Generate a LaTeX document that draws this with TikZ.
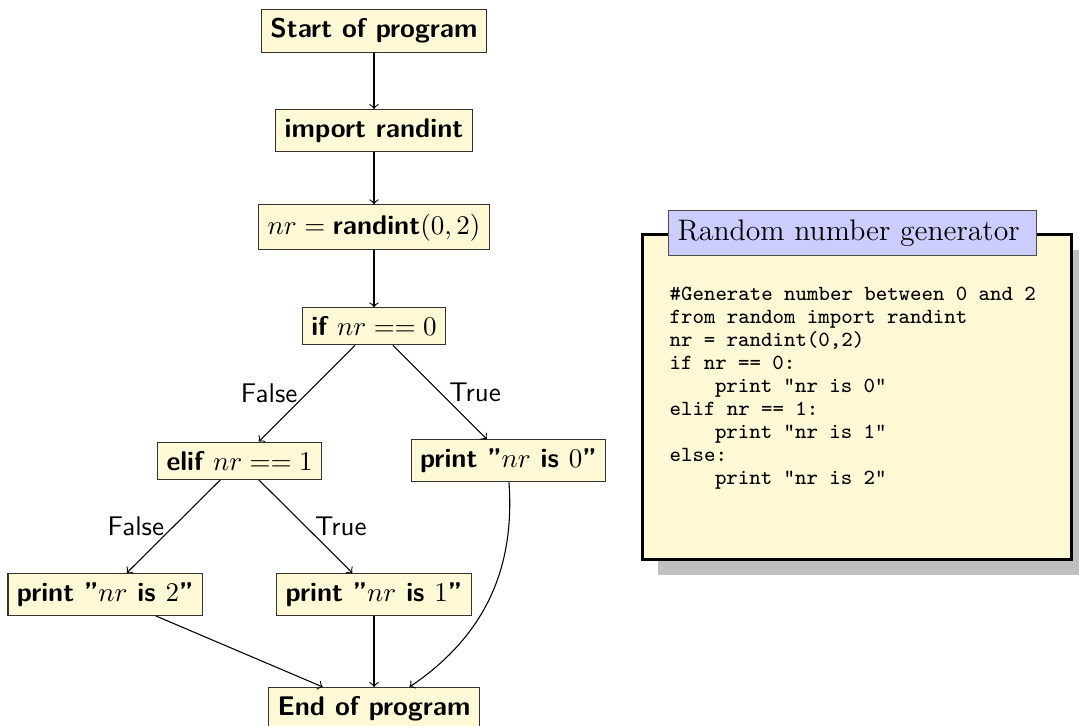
\documentclass[tikz,border=0pt]{standalone}
\usetikzlibrary{shadows}
\definecolor{flowfill}{RGB}{255,249,214}
\newcommand{\codeindent}{\hspace*{2.1em}}
\newcommand{\codespacing}{\frenchspacing\spaceskip 0.525em\relax}
\begin{document}
\begin{tikzpicture}[font=\sffamily,
    flow/.style={rectangle,draw=black!80,fill=flowfill,font=\sffamily\bfseries},
    codebox/.style={rectangle,draw,very thick,fill=flowfill,
      drop shadow={shadow xshift=0.2cm,shadow yshift=-0.2cm,opacity=1,fill=black!25},
      inner xsep=10pt,text width=4.88cm,minimum height=4.23cm,align=left,
      font=\ttfamily\fontsize{8}{8.5}\selectfont},
    codetitle/.style={rectangle,draw=black!70,fill=blue!20,
      font=\rmfamily\fontsize{11}{13}\selectfont}]
    \useasboundingbox (-4.87,0.40) rectangle (9.18,-9.05);
    \node[flow] (S) at (0,0) {Start of program};
    \node[flow] (I) at (0,-1.3) {import randint};
    \node[flow] (R) at (0,-2.56) {$nr = \mbox{randint}(0,2)$};
    \node[flow] (If) at (0,-3.85) {if $nr == 0$};
    \node[flow] (Elif) at (-1.75,-5.6) {elif $nr == 1$};
    \node[flow] (P0) at (1.75,-5.6) {print "$nr$ is $0$"};
    \node[flow] (P2) at (-3.5,-7.34) {print "$nr$ is $2$"};
    \node[flow] (P1) at (0,-7.34) {print "$nr$ is $1$"};
    \node[flow] (E) at (0,-8.83) {End of program};
    \draw[->] (S) -- (I);
    \draw[->] (I) -- (R);
    \draw[->] (R) -- (If);
    \draw[->] (If) --node[left] {False} (Elif);
    \draw[->] (If) --node[right] {True} (P0);
    \draw[->] (Elif) --node[left] {False} (P2);
    \draw[->] (Elif) --node[right] {True} (P1);
    \draw[->] (P2) -- (E);
    \draw[->] (P1) -- (E);
    \draw[->] (P0) to[bend left] (E);
    % the python source next to the chart
    \node[codebox] (C) at (6.29,-4.77) {\codespacing\#Generate number between 0 and 2\\
      from random import randint\\
      nr = randint(0,2)\\
      if nr == 0:\\
      \codeindent print "nr is 0"\\
      elif nr == 1:\\
      \codeindent print "nr is 1"\\
      else:\\
      \codeindent print "nr is 2"\\
      \mbox{}};
    \node[codetitle,right=10pt] (T) at (C.north west) {Random number generator\hspace*{3pt}};
\end{tikzpicture}
\end{document}
